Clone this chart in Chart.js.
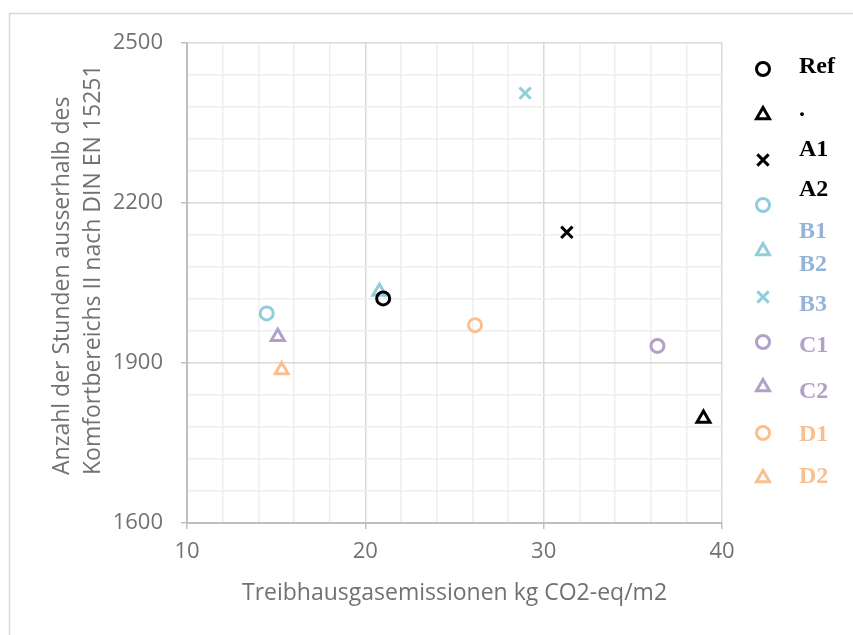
<!DOCTYPE html>
<html>
<head>
<meta charset="utf-8">
<script src="https://cdn.jsdelivr.net/npm/chart.js@4.4.1/dist/chart.umd.min.js"></script>
<style>
    body { margin: 0; background: #ffffff; }
    canvas { display: block; }
</style>
</head>
<body>
<canvas id="chart" width="853" height="635"></canvas>
<script>
// series (one point each), in legend order
const seriesNames = ['Ref', 'A1', 'A2', 'B1', 'B2', 'B3', 'C1', 'C2', 'D1', 'D2'];
const xValues = [21.0, 38.96, 31.3, 14.47, 20.79, 28.96, 36.38, 15.09, 26.15, 15.31];
const yValues = [2021, 1796, 2145, 1993, 2034, 2406, 1932, 1949, 1971, 1887];
const pointStyles = ['circle', 'triangle', 'crossRot', 'circle', 'triangle', 'crossRot', 'circle', 'triangle', 'circle', 'triangle'];
const seriesColors = ['#000000', '#000000', '#000000', '#92cddc', '#92cddc', '#92cddc', '#b1a0c7', '#b1a0c7', '#fabf8f', '#fabf8f'];

// legend texts (as shown in the original, not aligned with markers)
const legendLabels = ['Ref', '.', 'A1', 'A2', 'B1', 'B2', 'B3', 'C1', 'C2', 'D1', 'D2'];
const legendLabelColors = ['#000000', '#000000', '#000000', '#000000', '#95b3d7', '#95b3d7', '#95b3d7', '#b1a0c7', '#b1a0c7', '#fabf8f', '#fabf8f'];

const xTitle = 'Treibhausgasemissionen kg CO2-eq/m2';
const yTitle = ['Anzahl der Stunden ausserhalb des', 'Komfortbereichs II nach DIN EN 15251'];

const textGray = '#757070';
const tickFont = { family: 'Open Sans', size: 22 };
const titleFont = { family: 'Open Sans', size: 23 };

function radiusFor(style)
{
    if (style == 'circle') return 6.5;
    if (style == 'triangle') return 7.5;
    return 8;
}

let datasets = seriesNames.map(function(name, i) {
    return {
        label: name,
        data: [{x: xValues[i], y: yValues[i]}],
        pointStyle: pointStyles[i],
        pointRadius: radiusFor(pointStyles[i]),
        pointHoverRadius: radiusFor(pointStyles[i]),
        pointBorderWidth: 3,
        pointBorderColor: seriesColors[i],
        pointBackgroundColor: 'rgba(0,0,0,0)',
        showLine: false
    };
});

// frame lines, y title and the custom legend
const decorPlugin = {
    id: 'decor',
    beforeDraw(chart)
    {
        let ctx = chart.ctx;
        ctx.save();
        ctx.strokeStyle = '#d9d9d9';
        ctx.lineWidth = 1.5;
        ctx.beginPath();
        ctx.moveTo(9.5, 635);
        ctx.lineTo(9.5, 13.5);
        ctx.lineTo(853, 13.5);
        ctx.stroke();
        ctx.restore();
    },
    afterDraw(chart)
    {
        let ctx = chart.ctx;
        ctx.save();

        // y axis title, two lines starting at the bottom
        ctx.fillStyle = textGray;
        ctx.font = titleFont.size + 'px "Open Sans"';
        ctx.textAlign = 'left';
        ctx.textBaseline = 'middle';
        let titleX = [62, 93];
        yTitle.forEach(function(line, i) {
            ctx.save();
            ctx.translate(titleX[i], 475);
            ctx.rotate(-Math.PI / 2);
            ctx.fillText(line, 0, 0);
            ctx.restore();
        });

        // legend markers
        let markerY = [69, 115, 160, 205, 251, 297, 342, 387, 433, 478];
        chart.data.datasets.forEach(function(ds, i) {
            let opts = {
                pointStyle: ds.pointStyle,
                radius: ds.pointRadius,
                rotation: 0,
                borderWidth: ds.pointBorderWidth
            };
            ctx.strokeStyle = ds.pointBorderColor;
            ctx.fillStyle = 'rgba(0,0,0,0)';
            ctx.lineWidth = ds.pointBorderWidth;
            Chart.helpers.drawPoint(ctx, opts, 763, markerY[i]);
        });

        // legend texts
        let labelY = [67, 110, 150, 190, 232, 265, 305, 346, 392, 435, 477];
        ctx.font = 'bold 24px "Liberation Serif"';
        ctx.textAlign = 'left';
        ctx.textBaseline = 'middle';
        legendLabels.forEach(function(text, i) {
            ctx.fillStyle = legendLabelColors[i];
            ctx.fillText(text, 799, labelY[i]);
        });

        ctx.restore();
    }
};

new Chart(document.getElementById('chart').getContext('2d'), {
    type: 'scatter',
    data: { datasets: datasets },
    plugins: [decorPlugin],
    options: {
        responsive: false,
        animation: false,
        devicePixelRatio: 1,
        layout: { padding: { top: 43, right: 131, left: 0, bottom: 0 } },
        plugins: {
            legend: { display: false },
            tooltip: { enabled: false }
        },
        scales: {
            x: {
                type: 'linear',
                min: 10,
                max: 40,
                afterFit: function(scale) { scale.height = 112; },
                border: { color: '#bfbfbf', width: 2 },
                grid: {
                    lineWidth: 1.5,
                    tickLength: 6,
                    color: function(c) { return c.tick && c.tick.value % 10 === 0 ? '#d9d9d9' : '#eeeeee'; },
                    tickColor: function(c) { return c.tick && c.tick.value % 10 === 0 ? '#bfbfbf' : 'rgba(0,0,0,0)'; }
                },
                ticks: {
                    stepSize: 2,
                    autoSkip: false,
                    maxRotation: 0,
                    padding: 10,
                    color: textGray,
                    font: tickFont,
                    callback: function(v) { return v % 10 === 0 ? String(v) : ''; }
                },
                title: {
                    display: true,
                    text: xTitle,
                    color: textGray,
                    font: titleFont,
                    padding: { top: 0, bottom: 28 }
                }
            },
            y: {
                type: 'linear',
                min: 1600,
                max: 2500,
                afterFit: function(scale) { scale.width = 187; },
                border: { color: '#bfbfbf', width: 2 },
                grid: {
                    lineWidth: 1.5,
                    tickLength: 6,
                    color: function(c) { return c.tick && (c.tick.value - 1600) % 300 === 0 ? '#d9d9d9' : '#eeeeee'; },
                    tickColor: function(c) { return c.tick && (c.tick.value - 1600) % 300 === 0 ? '#bfbfbf' : 'rgba(0,0,0,0)'; }
                },
                ticks: {
                    stepSize: 60,
                    autoSkip: false,
                    padding: 18,
                    color: textGray,
                    font: tickFont,
                    callback: function(v) { return (v - 1600) % 300 === 0 ? String(v) : ''; }
                }
            }
        }
    }
});
</script>
</body>
</html>
